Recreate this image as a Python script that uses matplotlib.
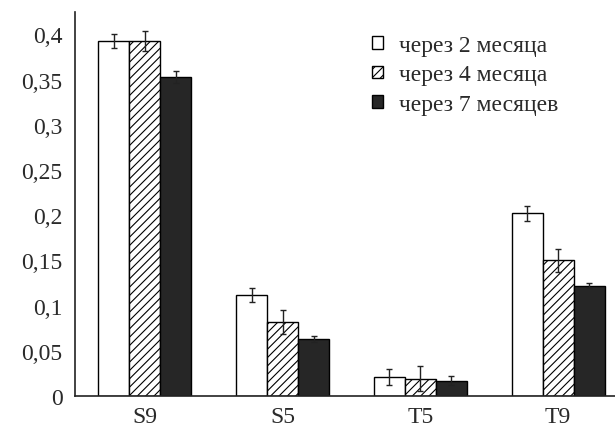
import matplotlib
matplotlib.use("Agg")
import matplotlib.pyplot as plt
import numpy as np

plt.rcParams['font.family'] = ['Liberation Serif', 'DejaVu Serif']
plt.rcParams['hatch.linewidth'] = 0.8

categories = ["S9", "S5", "T5", "T9"]
series_names = ["через 2 месяца", "через 4 месяца", "через 7 месяцев"]
vals_2m = [0.393, 0.112, 0.021, 0.202]
vals_4m = [0.393, 0.082, 0.019, 0.150]
vals_7m = [0.353, 0.063, 0.017, 0.122]
err_2m = [0.008, 0.008, 0.009, 0.008]
err_4m = [0.011, 0.013, 0.014, 0.013]
err_7m = [0.007, 0.003, 0.005, 0.003]
yticks = [0, 0.05, 0.1, 0.15, 0.2, 0.25, 0.3, 0.35, 0.4]
ytick_labels = ["0", "0,05", "0,1", "0,15", "0,2", "0,25", "0,3", "0,35", "0,4"]

fig = plt.figure(figsize=(6.15, 4.35), dpi=100)
ax = fig.add_axes([75/615, 38/435, 540/615, 384/435])

x = np.arange(len(categories))
w = 0.225
styles = [dict(color="white", hatch=None), dict(color="white", hatch="////"), dict(color="#262626", hatch=None)]
data = [vals_2m, vals_4m, vals_7m]
errs = [err_2m, err_4m, err_7m]
handles = []
for i, (v, e, st) in enumerate(zip(data, errs, styles)):
    b = ax.bar(x + (i - 1) * w, v, w, color=st["color"], hatch=st["hatch"],
               edgecolor="black", linewidth=1.0, label=series_names[i], zorder=2)
    ax.errorbar(x + (i - 1) * w, v, yerr=e, fmt="none", ecolor="#222222",
                elinewidth=1.0, capsize=2.5, capthick=1.0, zorder=3)
    handles.append(b)

ax.set_xlim(-0.508, 3.413)
ax.set_ylim(0, 0.4248)
ax.set_xticks(x)
ax.set_xticklabels(categories, fontsize=17)
ax.set_yticks(yticks)
ax.set_yticklabels(ytick_labels, fontsize=17)
ax.tick_params(axis="both", length=0, colors="#2a2a2a")
ax.tick_params(axis="x", pad=7)
ax.tick_params(axis="y", pad=9)
for s in ["top", "right"]:
    ax.spines[s].set_visible(False)
for s in ["left", "bottom"]:
    ax.spines[s].set_linewidth(1.2)
    ax.spines[s].set_color("#222222")

leg = ax.legend(handles=handles, loc="upper left", bbox_to_anchor=(0.533, 0.965),
                frameon=False, fontsize=17, handlelength=0.45, handleheight=0.45,
                handletextpad=0.7, labelspacing=0.36, borderaxespad=0)
for t in leg.get_texts():
    t.set_color("#2a2a2a")

fig.savefig("out.png", dpi=100, facecolor="white")
